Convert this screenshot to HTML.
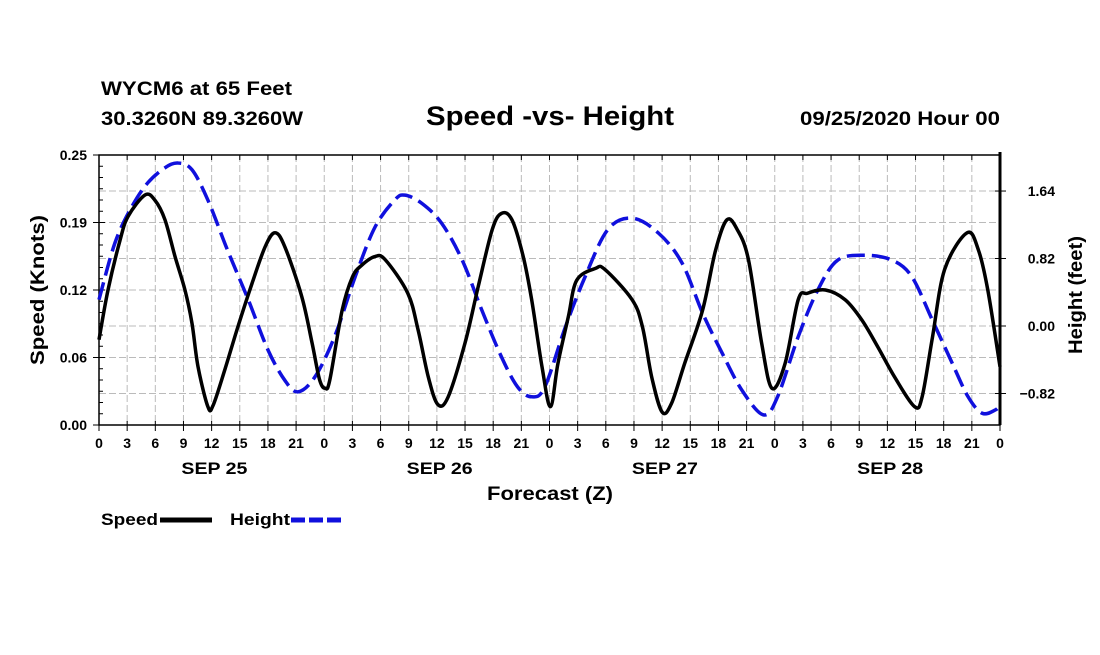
<!DOCTYPE html>
<html><head><meta charset="utf-8"><style>
body{margin:0;background:#fff;width:1100px;height:650px;overflow:hidden}
svg text{font-family:"Liberation Sans",sans-serif;font-weight:bold;fill:#000}
</style></head><body>
<svg id="c" width="1100" height="650">
<text x="101" y="95" font-size="19" textLength="191" lengthAdjust="spacingAndGlyphs">WYCM6 at 65 Feet</text>
<text x="101" y="125" font-size="19" textLength="202" lengthAdjust="spacingAndGlyphs">30.3260N 89.3260W</text>
<text x="426" y="125" font-size="27" textLength="248" lengthAdjust="spacingAndGlyphs">Speed -vs- Height</text>
<text x="800" y="125" font-size="19" textLength="200" lengthAdjust="spacingAndGlyphs">09/25/2020 Hour 00</text>
<text x="487" y="500" font-size="19" textLength="126" lengthAdjust="spacingAndGlyphs">Forecast (Z)</text>
<text transform="translate(44,365) rotate(-90)" font-size="19" textLength="150" lengthAdjust="spacingAndGlyphs">Speed (Knots)</text>
<text transform="translate(1082,354) rotate(-90)" font-size="19" textLength="118" lengthAdjust="spacingAndGlyphs">Height (feet)</text>
<g>
<text x="101" y="525" font-size="17" textLength="57" lengthAdjust="spacingAndGlyphs">Speed</text>
<line x1="160" y1="520" x2="212" y2="520" stroke="#000" stroke-width="5"/>
<text x="230" y="525" font-size="17" textLength="60" lengthAdjust="spacingAndGlyphs">Height</text>
<line x1="291" y1="520" x2="342" y2="520" stroke="#1010dd" stroke-width="5" stroke-dasharray="14,4"/>
</g>
<g id="g"></g>
</svg>
<script>
const speedHours=[0,0.96,2.24,3.09,4.9,5.97,7.03,8.1,9.16,9.91,10.55,11.6,12.15,13.4,14.8,16.3,17.7,18.75,19.8,21.6,22.7,23.5,24.1,24.6,25.9,27.0,28.0,29.4,30.5,32.9,34.0,35.1,36.1,37.2,39.0,40.4,41.9,42.9,44.0,45.2,46.1,47.2,48.1,48.9,50.0,50.9,52.9,53.9,56.8,57.9,58.9,60.0,61.0,62.4,64.3,65.7,66.9,68.0,69.2,70.6,71.7,73.1,74.5,75.5,77.4,79.5,81.3,83.0,84.8,86.9,87.7,88.8,90.1,92.5,93.7,94.7,96];
const speedVals=[.079,.125,.171,.193,.213,.208,.190,.156,.125,.094,.054,.017,.018,.051,.091,.131,.165,.178,.165,.119,.076,.042,.034,.042,.106,.137,.148,.156,.153,.122,.088,.044,.019,.026,.076,.128,.181,.196,.190,.156,.116,.054,.017,.057,.100,.134,.145,.144,.116,.091,.044,.012,.020,.057,.106,.162,.190,.181,.153,.076,.034,.057,.116,.122,.125,.116,.097,.072,.044,.017,.026,.081,.144,.178,.162,.125,.054];
const heightHours=[0,1.7,3.5,5.2,7.0,8.4,9.9,11.6,13.7,15.9,18.0,19.8,21.2,23.0,25.1,27.3,29.4,31.5,32.6,34.4,36.5,38.7,40.8,42.9,44.6,46.1,47.5,49.7,51.8,54.2,56.8,59.6,62.1,64.3,66.4,68.5,70.8,72.3,74.5,76.6,78.7,81.6,84.5,86.6,88.8,90.9,92.6,94.1,95.5,96];
const heightVals=[0.32,1.01,1.45,1.74,1.92,1.98,1.90,1.53,0.92,0.32,-0.29,-0.66,-0.80,-0.62,-0.13,0.60,1.20,1.53,1.59,1.49,1.25,0.80,0.19,-0.38,-0.74,-0.86,-0.74,-0.01,0.60,1.17,1.31,1.13,0.77,0.16,-0.33,-0.78,-1.08,-0.86,-0.13,0.44,0.80,0.86,0.80,0.60,0.07,-0.45,-0.86,-1.06,-1.02,-0.96];
const leftTicks=[0,0.0625,0.125,0.1875,0.25];
const leftTickLabels=["0.00","0.06","0.12","0.19","0.25"];
const rightTicks=[-0.82,0,0.82,1.64];
const rightTickLabels=["\u22120.82","0.00","0.82","1.64"];
const dayLabels=["SEP 25","SEP 26","SEP 27","SEP 28"];
const L=99,R=1000,T=155,B=425;
const xs=h=>L+(R-L)*h/96;
const ys=v=>B-(B-T)*v/0.25;
const yh=f=>326-f*82.3;
const g=document.getElementById('g');
const NS='http://www.w3.org/2000/svg';
function mk(t,a){const e=document.createElementNS(NS,t);for(const k in a)e.setAttribute(k,a[k]);g.appendChild(e);return e;}
function smooth(p){let d='M'+p[0][0]+','+p[0][1];
for(let i=0;i<p.length-1;i++){const p0=p[Math.max(0,i-1)],p1=p[i],p2=p[i+1],p3=p[Math.min(p.length-1,i+2)];
d+=`C${p1[0]+(p2[0]-p0[0])/6},${p1[1]+(p2[1]-p0[1])/6} ${p2[0]-(p3[0]-p1[0])/6},${p2[1]-(p3[1]-p1[1])/6} ${p2[0]},${p2[1]}`;}return d;}
for(let h=3;h<96;h+=3){const e=mk('line',{x1:xs(h),x2:xs(h),y1:T,y2:B,stroke:'#bbb','stroke-dasharray':'7,3'});

}
leftTicks.slice(1,4).forEach(v=>{const e=mk('line',{x1:L,x2:R,y1:ys(v),y2:ys(v),stroke:'#bbb','stroke-dasharray':'7,3'});

});
rightTicks.forEach(v=>{const e=mk('line',{x1:L,x2:R,y1:yh(v),y2:yh(v),stroke:'#bbb','stroke-dasharray':'7,3'});

});
const fr=mk('rect',{x:L,y:T,width:R-L,height:B-T,fill:'none',stroke:'#000','stroke-width':1.5});


const ra=mk('line',{x1:R,x2:R,y1:T-3,y2:B,stroke:'#000','stroke-width':3});


for(let i=1;i<24;i++){const y=B-(B-T)*i/24;mk('line',{x1:L,x2:L+4,y1:y,y2:y,stroke:'#000'});}
leftTicks.forEach((v,i)=>{const y=ys(v);mk('line',{x1:L-6,x2:L+6,y1:y,y2:y,stroke:'#000'});
const t=mk('text',{x:L-12,y:y+5,'font-size':14,'text-anchor':'end'});t.textContent=leftTickLabels[i];

});
rightTicks.forEach((v,i)=>{const y=yh(v);mk('line',{x1:R-5,x2:R+6,y1:y,y2:y,stroke:'#000'});
const t=mk('text',{x:R+55,y:y+5,'font-size':14,'text-anchor':'end'});t.textContent=rightTickLabels[i];

});
for(let h=0;h<=96;h+=3){const x=xs(h);mk('line',{x1:x,x2:x,y1:B-4,y2:B+6,stroke:'#000'});mk('line',{x1:x,x2:x,y1:T,y2:T+5,stroke:'#000'});
const t=mk('text',{x:x,y:B+23,'font-size':14,'text-anchor':'middle'});t.textContent=String(h%24);

}
dayLabels.forEach((d,i)=>{const t=mk('text',{x:xs(i*24+12.3),y:474,'font-size':17,'text-anchor':'middle',textLength:66,lengthAdjust:'spacingAndGlyphs'});t.textContent=d;

});
const hl=mk('path',{d:smooth(heightHours.map((h,i)=>[xs(h),yh(heightVals[i])])),fill:'none',stroke:'#1010dd','stroke-width':3.5,'stroke-dasharray':'18,7'});


const sl=mk('path',{d:smooth(speedHours.map((h,i)=>[xs(h),ys(speedVals[i])])),fill:'none',stroke:'#000','stroke-width':3.5,'stroke-linejoin':'round'});


</script>
</body></html>
